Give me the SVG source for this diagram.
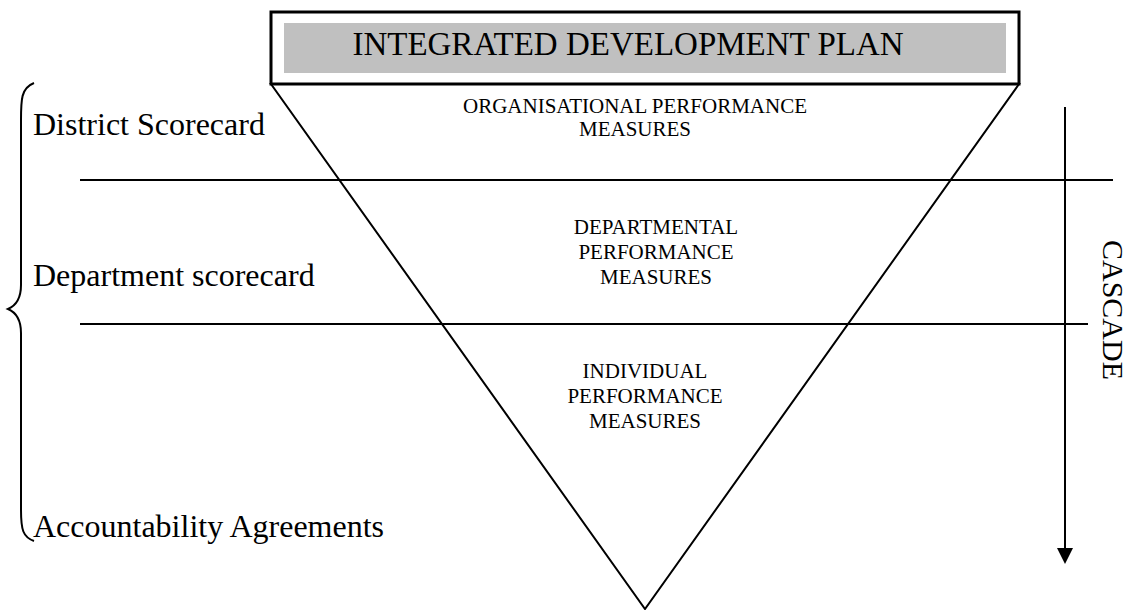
<svg xmlns="http://www.w3.org/2000/svg" width="1134" height="610" viewBox="0 0 1134 610">
<style>
text{font-family:"Liberation Serif","Times New Roman",serif;fill:#000}
.lbl{font-size:32px}
.small{font-size:21px;text-anchor:middle}
.ln{stroke:#000;stroke-width:2;fill:none}
</style>
<rect width="1134" height="610" fill="#fff"/>
<g id="pyramid">
<polygon points="271,84 1019,84 645,609" class="ln" stroke-width="1.6"/>
</g>
<g id="title">
<rect x="271" y="12" width="748" height="72" fill="#fff" stroke="#000" stroke-width="3"/>
<rect x="284" y="23" width="722" height="50" fill="#c0c0c0"/>
<text x="628" y="55" font-size="33" text-anchor="middle">INTEGRATED DEVELOPMENT PLAN</text>
</g>
<g id="connectors">
<line x1="80" y1="180" x2="1113" y2="180" class="ln"/>
<line x1="80" y1="324" x2="1088" y2="324" class="ln"/>
<line x1="1065" y1="107" x2="1065" y2="550" class="ln"/>
<path d="M1057,548 L1073,548 L1065,564 Z" fill="#000"/>
<path d="M34,83 C21,88 21,100 21,120 L21,285 C21,300 15,306 8,309 C15,312 21,318 21,333 L21,510 C21,530 23,537 34,541" class="ln" stroke-width="1.6"/>
</g>
<g id="org">
<text class="small" x="635" y="113">ORGANISATIONAL PERFORMANCE</text>
<text class="small" x="635" y="136">MEASURES</text>
</g>
<g id="dept">
<text class="small" x="656" y="234">DEPARTMENTAL</text>
<text class="small" x="656" y="259">PERFORMANCE</text>
<text class="small" x="656" y="284">MEASURES</text>
</g>
<g id="indiv">
<text class="small" x="645" y="378">INDIVIDUAL</text>
<text class="small" x="645" y="403">PERFORMANCE</text>
<text class="small" x="645" y="428">MEASURES</text>
</g>
<g id="labels">
<text class="lbl" x="33" y="135">District Scorecard</text>
<text class="lbl" x="33" y="286">Department scorecard</text>
<text class="lbl" x="33" y="537">Accountability Agreements</text>
</g>
<g id="cascade">
<text x="1103" y="310" font-size="30" text-anchor="middle" transform="rotate(90 1103 310)">CASCADE</text>
</g>
</svg>
